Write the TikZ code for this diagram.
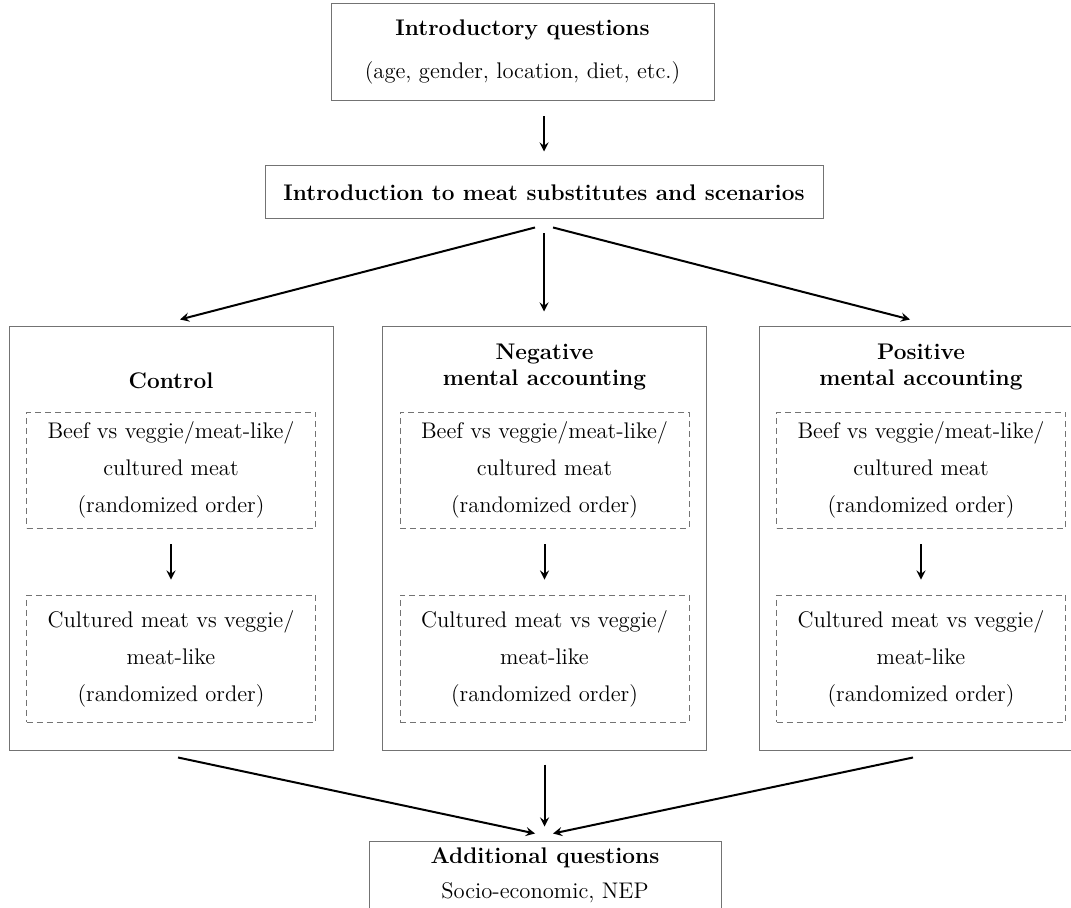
\documentclass[tikz,border=0pt]{standalone}
\usepackage{tikz}
\usetikzlibrary{arrows, calc, positioning}

\tikzset{
    box/.style={draw=black!55, line width=0.5pt, align=center, inner sep=0pt},
    dbox/.style={draw=black!55, dash pattern=on 3pt off 2pt, line width=0.45pt,
        align=center, inner sep=0pt, minimum width=144.5pt},
    ttl/.style={align=center, font=\fontsize{11.3}{13.2}\selectfont\bfseries},
    arr/.style={->, >=stealth, line width=1pt}
}

\begin{document}
\begin{tikzpicture}[x=0.5pt, y=-0.5pt, font=\fontsize{11.3}{13.6}\selectfont]
    \clip (0,0) rectangle (1071,908);

    \node[box, minimum width=191.5pt, minimum height=48.5pt] (intro) at (522.5,52.5)
        {\textbf{Introductory questions}\\[7.9pt](age, gender, location, diet, etc.)};
    \node[box, minimum width=279pt, minimum height=26.5pt] (scen) at (544,192.5)
        {\textbf{Introduction to meat substitutes and scenarios}};

    % the three groups
    \foreach \cx/\n/\t/\ty in {171/ctrl/{Control}/381,
        544.5/neg/{Negative\\mental accounting}/367,
        921/pos/{Positive\\mental accounting}/367} {
        \node[box, minimum width=162pt, minimum height=211.5pt] (\n) at (\cx,538.5) {};
        \node[ttl] (\n-title) at (\cx,\ty) {\t};
        \node[dbox, minimum height=58pt] (\n-a) at (\cx,470)
            {Beef vs veggie/meat-like/\\[4.9pt]cultured meat\\[4.9pt](randomized order)};
        \node[dbox, minimum height=63.5pt] (\n-b) at (\cx,658.5)
            {Cultured meat vs veggie/\\[4.9pt]meat-like\\[4.9pt](randomized order)};
        \draw[arr, shorten <=8pt, shorten >=7.5pt] (\n-a) -- (\n-b);
    }

    \node[box, minimum width=176pt, minimum height=34.5pt] (add) at (545,875.5)
        {\textbf{Additional questions}\\[3.9pt]Socio-economic, NEP};

    \draw[arr, shorten <=7.5pt, shorten >=7pt] (intro.south -| scen) -- (scen);
    \draw[arr] ($(scen.south)+(-9,8)$) -- ($(ctrl.north)+(9,-7)$);
    \draw[arr, shorten <=7pt, shorten >=7.5pt] (scen.south) -- (scen.south |- neg.north);
    \draw[arr] ($(scen.south)+(9,8)$) -- ($(pos.north)+(-11,-7)$);

    \draw[arr] ($(ctrl.south)+(7,7)$) -- ($(add.north)+(-10,-7)$);
    \draw[arr, shorten <=7pt, shorten >=7pt] (neg.south) -- (neg.south |- add.north);
    \draw[arr] ($(pos.south)+(-8,7)$) -- ($(add.north)+(8,-7)$);
\end{tikzpicture}
\end{document}
